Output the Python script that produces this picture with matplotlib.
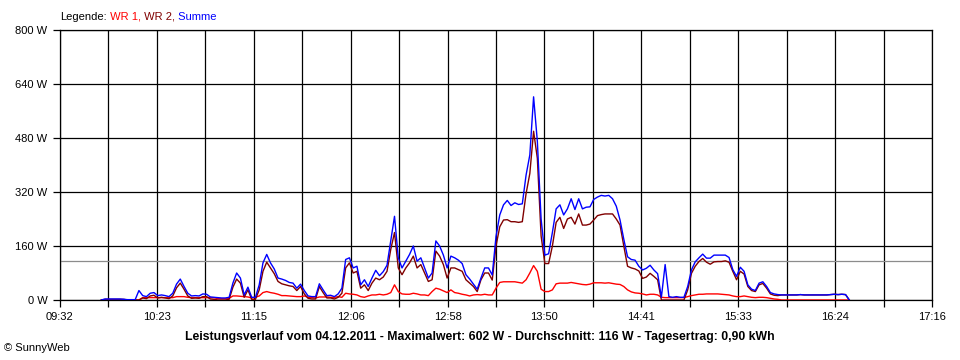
import matplotlib
matplotlib.use("Agg")
import matplotlib.pyplot as plt
import numpy as np

# Messwerte im 2-Minuten-Raster ab 09:54 (Watt)
start_time = "09:54"
step_min = 2

wr1 = [
    0, 0, 0, 0, 0, 0, 0, 0, 0, 0,
    0, 7, 7, 7, 7, 7, 7, 7, 7, 7,
    10, 10, 10, 8, 7, 7, 7, 7, 7, 7,
    7, 4, 4, 4, 5, 12, 12, 11, 10, 9,
    6, 8, 12, 22, 25, 22, 20, 17, 13, 13,
    12, 11, 10, 10, 12, 8, 7, 6, 9, 9,
    9, 8, 8, 10, 8, 20, 18, 17, 15, 10,
    8, 12, 15, 15, 17, 15, 17, 22, 45, 25,
    18, 17, 17, 20, 18, 15, 15, 13, 25, 35,
    32, 27, 22, 30, 22, 20, 17, 15, 12, 15,
    16, 15, 17, 15, 15, 35, 52, 54, 54, 54,
    54, 52, 50, 60, 80, 102, 85, 32, 25, 25,
    30, 48, 50, 50, 50, 52, 50, 48, 46, 45,
    47, 51, 51, 51, 50, 51, 49, 47, 46, 40,
    30, 24, 21, 20, 18, 15, 17, 17, 15, 8,
    7, 7, 7, 7, 7, 7, 10, 13, 15, 17,
    17, 18, 18, 18, 18, 17, 16, 15, 12, 10,
    10, 12, 10, 8, 7, 8, 8, 7, 5, 3,
    2, 0, 0, 0, 0, 0, 0, 0, 0, 0,
    0, 0, 0, 0, 0, 0, 0, 0, 0, 0,
]

wr2 = [
    0, 2, 2, 2, 2, 2, 2, 0, 0, 0,
    0, 6, 4, 12, 14, 6, 8, 6, 4, 12,
    36, 50, 32, 12, 5, 6, 5, 10, 10, 3,
    2, 0, 0, 0, 2, 38, 62, 50, 8, 30,
    2, 2, 30, 85, 112, 95, 78, 55, 48, 45,
    42, 40, 28, 40, 18, 5, 3, 3, 40, 22,
    6, 6, 3, 8, 20, 95, 110, 80, 85, 35,
    45, 28, 50, 65, 60, 68, 85, 150, 200, 95,
    75, 95, 110, 130, 95, 105, 80, 55, 60, 145,
    130, 105, 65, 95, 95, 90, 85, 60, 50, 40,
    25, 60, 80, 80, 59, 160, 217, 237, 238, 232,
    232, 230, 232, 315, 375, 500, 420, 190, 108, 108,
    160, 230, 245, 212, 240, 245, 225, 255, 222, 222,
    225, 237, 250, 253, 255, 255, 255, 240, 222, 160,
    100, 95, 92, 86, 64, 68, 79, 70, 60, 0,
    0, 0, 0, 0, 0, 0, 30, 79, 100, 114,
    123, 112, 106, 113, 114, 114, 116, 112, 85, 60,
    85, 77, 40, 28, 25, 45, 49, 35, 18, 14,
    13, 15, 15, 15, 15, 15, 16, 15, 15, 15,
    15, 15, 15, 15, 16, 17, 16, 17, 16, 0,
]

summe = [
    0, 3, 3, 3, 3, 3, 2, 1, 1, 1,
    28, 13, 10, 20, 22, 13, 15, 13, 10, 20,
    47, 62, 40, 20, 12, 13, 12, 18, 17, 9,
    8, 7, 6, 6, 8, 50, 80, 65, 15, 38,
    8, 8, 45, 110, 135, 110, 92, 65, 62, 58,
    52, 50, 35, 47, 28, 12, 10, 10, 48, 30,
    13, 14, 10, 18, 35, 120, 125, 95, 100, 45,
    60, 40, 65, 88, 72, 84, 103, 175, 248, 125,
    95, 115, 135, 160, 115, 125, 95, 65, 80, 175,
    160, 133, 95, 130, 125, 118, 108, 75, 62, 47,
    32, 65, 95, 95, 74, 188, 252, 282, 295, 280,
    288, 283, 285, 370, 430, 602, 470, 240, 133, 137,
    200, 270, 282, 252, 270, 300, 268, 300, 270, 275,
    276, 298, 305, 310, 308, 310, 300, 278, 237, 180,
    128, 120, 118, 100, 89, 94, 103, 89, 78, 8,
    105, 10, 8, 10, 8, 8, 40, 89, 113, 125,
    136, 124, 124, 133, 133, 133, 133, 126, 90, 70,
    97, 85, 45, 32, 28, 50, 54, 40, 22, 18,
    16, 15, 15, 15, 15, 15, 16, 15, 15, 15,
    15, 15, 15, 15, 16, 17, 16, 17, 16, 0,
]

axis_start = "09:32"
axis_end = "17:16"
x_labels = ["09:32", "10:23", "11:15", "12:06", "12:58",
            "13:50", "14:41", "15:33", "16:24", "17:16"]
y_ticks = [0, 160, 320, 480, 640, 800]
durchschnitt = 116

title = ("Leistungsverlauf vom 04.12.2011 - Maximalwert: 602 W - "
         "Durchschnitt: 116 W - Tagesertrag: 0,90 kWh")


def to_min(s):
    h, m = s.split(":")
    return int(h) * 60 + int(m)


plt.rcParams["font.family"] = ["Liberation Sans", "DejaVu Sans"]
plt.rcParams["font.size"] = 8

t0 = to_min(start_time)
times = [t0 + i * step_min for i in range(len(summe))]

x0 = to_min(axis_start)
x1 = to_min(axis_end)
grid_x = np.linspace(x0, x1, 19)

fig = plt.figure(figsize=(9.6, 3.6), dpi=100)
ax = fig.add_axes([60 / 960, 60 / 360, 872 / 960, 270 / 360])

ax.set_xlim(x0, x1)
ax.set_ylim(0, 800)

for gx in grid_x:
    ax.axvline(gx, color="black", lw=0.9, zorder=1)
for gy in y_ticks:
    ax.axhline(gy, color="black", lw=0.9, zorder=1)
ax.axhline(durchschnitt, color="#8c8c8c", lw=0.9, zorder=1)

ax.plot(times, wr1, color="#ff0000", lw=1.0, zorder=3)
ax.plot(times, wr2, color="#800000", lw=1.0, zorder=3)
ax.plot(times, summe, color="#0000ff", lw=1.0, zorder=4)

ax.set_yticks(y_ticks)
ax.set_yticklabels([f"{v} W" for v in y_ticks])
ax.set_xticks(grid_x)
ax.set_xticklabels([x_labels[i // 2] if i % 2 == 0 else "" for i in range(19)])
ax.tick_params(axis="both", length=5, width=0.9, color="black", labelsize=8)
ax.tick_params(axis="x", pad=4)
ax.tick_params(axis="y", pad=4)

for sp in ax.spines.values():
    sp.set_color("black")
    sp.set_linewidth(0.9)

fig.text(0.5, 1 - 337 / 360, title, ha="center", va="center",
         fontsize=8.8, fontweight="bold")
fig.text(4 / 960, 1 - 348 / 360, "\u00a9 SunnyWeb", ha="left", va="center",
         fontsize=8)

# Legende mit farbigen Teilen
fig.canvas.draw()
renderer = fig.canvas.get_renderer()
parts = [("Legende:", "black"), (" WR 1,", "#ff0000"),
         (" WR 2,", "#800000"), (" Summe", "#0000ff")]
lx = 60 / 960
for txt, col in parts:
    t = fig.text(lx, 1 - 16.5 / 360, txt, color=col, ha="left", va="center",
                 fontsize=8)
    bb = t.get_window_extent(renderer=renderer)
    lx = bb.x1 / fig.bbox.width

fig.savefig("out.png", dpi=100, facecolor="white")
